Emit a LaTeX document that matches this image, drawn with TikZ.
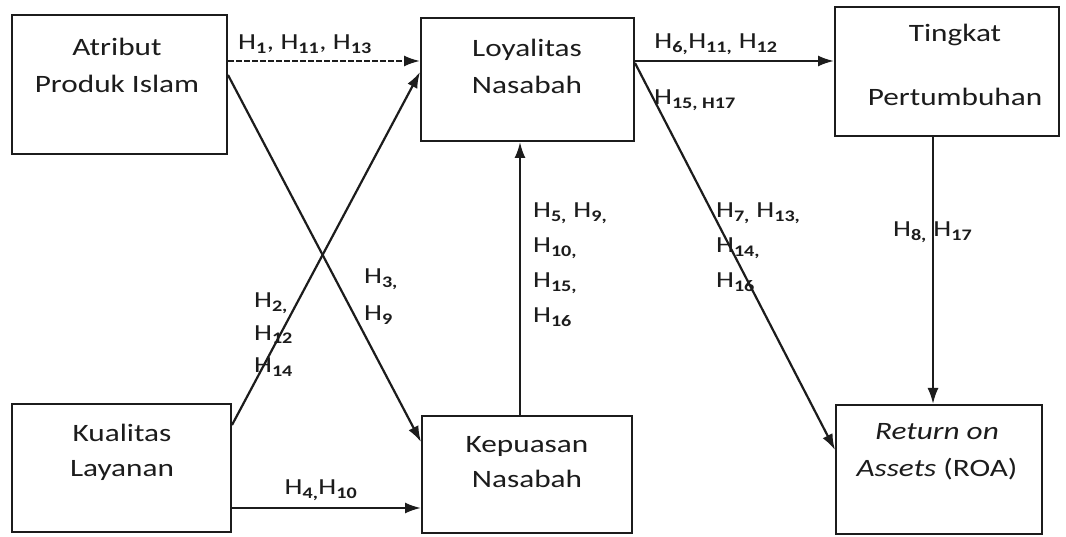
\documentclass[tikz,border=0pt]{standalone}
\usepackage{fontspec}
\setmainfont{Carlito}[FakeStretch=1.25]
\usetikzlibrary{arrows.meta,positioning,calc}
\definecolor{ink}{HTML}{1C1C1C}
\newcommand\hsub[1]{H\textsubscript{\textbf{#1}}}

\begin{document}
\begin{tikzpicture}[x=1pt,y=1pt,>={Latex[length=16pt,width=11pt]},line width=2.2pt,every node/.style={text=ink},box/.style={draw=ink,line width=2pt,inner sep=0pt},boxtext/.style={font=\fontsize{25}{37}\selectfont,align=center},hlab/.style={font=\fontsize{23}{35}\selectfont,align=left,inner sep=0pt},flow/.style={->,ink}]
\path[use as bounding box,fill=white] (0,0) rectangle (1066,536);

\node[box,minimum width=215,minimum height=139] (atr) at (119.5,451.5) {};
\node[box,minimum width=213,minimum height=123] (loy) at (527.5,456.5) {};
\node[box,minimum width=224,minimum height=129] (tkt) at (947,464.5) {};
\node[box,minimum width=219,minimum height=128] (kua) at (121.5,68) {};
\node[box,minimum width=210,minimum height=117] (kep) at (527,61.5) {};
\node[box,minimum width=206,minimum height=129] (roa) at (939,66.5) {};

\node[boxtext] (atrtext) at (117,471) {Atribut\\Produk Islam};
\node[boxtext] (loytext) at (527,470) {Loyalitas\\Nasabah};
\node[boxtext] (tkttext) at (955,471) {Tingkat\\[27pt]Pertumbuhan};
\node[boxtext] (kuatext) at (122,84) {Kualitas\\[-2pt]Layanan};
\node[boxtext] (keptext) at (527,74) {Kepuasan\\[-2pt]Nasabah};
\node[boxtext] (roatext) at (937,84) {\textit{Return on}\\\textit{Assets} (ROA)};

\draw[flow,dash pattern=on 6pt off 2pt] ([yshift=23.5]atr.east) -- ([yshift=23.5]atr.east -| loy.west);
\draw[flow] ([yshift=9.5]atr.east) -- ([yshift=32.5]kep.west);
\draw[flow] ([yshift=43]kua.east) -- ([yshift=7.5]loy.west);
\draw[flow] ([yshift=-40]kua.east) -- ([yshift=-40]kua.east -| kep.west);
\draw[flow] ([xshift=-7]kep.north) -- ([xshift=-7]kep.north |- loy.south);
\draw[flow] ([yshift=18.5]loy.east) -- ([yshift=18.5]loy.east -| tkt.west);
\draw[flow] ([yshift=16.5]loy.east) -- ([yshift=19.5]roa.west);
\draw[flow] ([xshift=-14]tkt.south) -- ([xshift=-14]tkt.south |- roa.north);

\node[hlab] (lab1) at (305,492) {\hsub{1}, \hsub{11}, \hsub{13}};
\node[hlab] (lab6) at (716,492) {\hsub{6,}\hsub{11,} \hsub{12}};
\node[hlab,anchor=west] (lab15) at (653,436) {\hsub{15, H17}};
\node[hlab,anchor=west,font=\fontsize{23}{32.5}\selectfont] (lab2) at (253,201.5) {\hsub{2,}\\\hsub{12}\\\hsub{14}};
\node[hlab,anchor=west,font=\fontsize{23}{37}\selectfont] (lab3) at (363,239.5) {\hsub{3,}\\\hsub{9}};
\node[hlab,anchor=west] (lab5) at (532,271.5) {\hsub{5,} \hsub{9,}\\\hsub{10,}\\\hsub{15,}\\\hsub{16}};
\node[hlab,anchor=west] (lab7) at (715,289) {\hsub{7,} \hsub{13,}\\\hsub{14,}\\\hsub{16}};
\node[hlab,anchor=west] (lab8) at (892,304) {\hsub{8,} \hsub{17}};
\node[hlab] (lab4) at (321,46) {\hsub{4,}\hsub{10}};

\end{tikzpicture}
\end{document}
